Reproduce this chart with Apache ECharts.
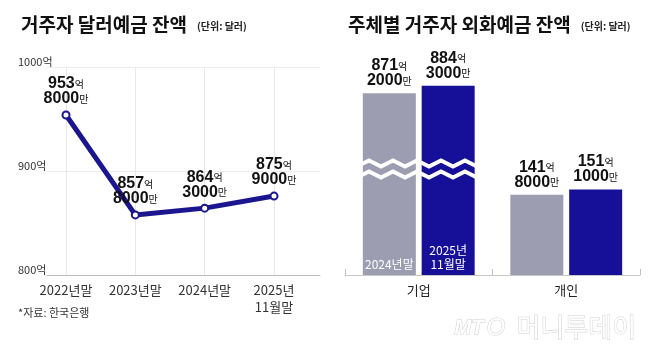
<!DOCTYPE html>
<html>
<head>
<meta charset="utf-8">
<script src="https://cdn.jsdelivr.net/npm/echarts@6/dist/echarts.min.js"></script>
<style>
html, body { margin: 0; padding: 0; background: #fff; }
#main { width: 658px; height: 352px; }
</style>
</head>
<body>
<div id="main"></div>
<script>
// 거주자 달러예금 잔액 (억 달러)
var periods = ['2022년말', '2023년말', '2024년말', '2025년\n11월말'];
var dollarDeposit = [953.8, 857.8, 864.3, 875.9];
var dollarTicks = [800, 900, 1000];

// 주체별 거주자 외화예금 잔액 (억 달러)
var holders = ['기업', '개인'];
var fx2024 = [871.2, 141.8];
var fx2025 = [884.3, 151.1];
var barNames = ['2024년말', '2025년\n11월말'];

var KR = '"Noto Sans CJK KR", sans-serif';
var NUM = '"Liberation Sans Narrow", "Liberation Sans", sans-serif';

// 953.8 -> 953억 8000만
function eokMan(v) {
    var eok = Math.floor(v + 1e-6);
    var man = Math.round((v - eok) * 10000);
    return '{n|' + eok + '}{u|억}\n{n|' + man + '}{u|만}';
}

var valueRich = {
    n: { fontFamily: NUM, fontWeight: 'bold', fontSize: 16, color: '#111', lineHeight: 15 },
    u: { fontFamily: KR, fontSize: 10, color: '#111', lineHeight: 15 }
};

var titleRich = {
    t: { fontFamily: KR, fontSize: 19, fontWeight: 'bold', color: '#111' },
    s: { fontFamily: KR, fontSize: 10, color: '#222', padding: [4, 0, 0, 0] }
};

// 기업 막대에만 안쪽 아래 라벨(시점)
function withInsideLabel(values) {
    return values.map(function (v, i) {
        return i === 0 ? { value: v, label: { show: true } } : v;
    });
}

function barSeries(name, values, color) {
    return {
        name: name, type: 'bar', xAxisIndex: 2, yAxisIndex: 2,
        data: withInsideLabel(values), barWidth: 53, barGap: '11%',
        itemStyle: { color: color },
        label: {
            show: false, position: 'insideBottom', distance: 4,
            formatter: '{a}', color: '#fff', fontSize: 12, lineHeight: 14, fontFamily: KR
        },
        emphasis: { disabled: true }
    };
}

// 값 라벨은 물결(축 생략) 위에 오도록 별도 투명 막대로
function valueLabelSeries(values) {
    return {
        type: 'bar', xAxisIndex: 3, yAxisIndex: 2, z: 200,
        data: values, barWidth: 53, barGap: '11%',
        itemStyle: { color: 'rgba(0,0,0,0)' }, silent: true,
        label: {
            show: true, position: 'top', distance: 5,
            formatter: function (p) { return eokMan(p.value); },
            rich: valueRich
        }
    };
}

var myChart = echarts.init(document.getElementById('main'));

myChart.setOption({
    animation: false,
    title: [
        { left: 16, top: 10, text: '{t|거주자 달러예금 잔액}  {s|(단위: 달러)}', textStyle: { rich: titleRich } },
        { left: 343, top: 10, text: '{t|주체별 거주자 외화예금 잔액}  {s|(단위: 달러)}', textStyle: { rich: titleRich } }
    ],
    grid: [
        { left: 47, right: 338, top: 67, bottom: 77 },
        { left: 66, width: 208, top: 67, bottom: 77 },
        { left: 345, right: 18, top: 60, bottom: 77 }
    ],
    xAxis: [
        {
            gridIndex: 0, type: 'value', min: 0, max: 1,
            axisLine: { show: true, lineStyle: { color: '#bdbdbd' } },
            axisTick: { show: false }, axisLabel: { show: false }, splitLine: { show: false }
        },
        {
            gridIndex: 1, type: 'category', data: periods, boundaryGap: false,
            axisLine: { show: false }, axisTick: { show: false },
            axisLabel: { interval: 0, color: '#333', fontSize: 13, lineHeight: 17, margin: 7, fontFamily: KR },
            splitLine: { show: true, lineStyle: { color: '#e8e8e8' } }
        },
        {
            gridIndex: 2, type: 'category', data: holders,
            axisLine: { lineStyle: { color: '#c8c8c8' } },
            axisTick: { show: true, inside: true, length: 6, lineStyle: { color: '#c0c0c0' } },
            axisLabel: { color: '#222', fontSize: 13, margin: 9, fontFamily: KR }
        },
        { gridIndex: 2, type: 'category', data: holders, show: false }
    ],
    yAxis: [
        {
            gridIndex: 0, type: 'value', min: dollarTicks[0], max: dollarTicks[2], interval: 100,
            axisLine: { show: false }, axisTick: { show: false },
            axisLabel: {
                formatter: function (v) { return v + '억'; },
                align: 'left', verticalAlign: 'bottom', margin: 29,
                color: '#333', fontSize: 11, fontFamily: KR
            },
            splitLine: { lineStyle: { color: '#ececec' } }
        },
        { gridIndex: 1, type: 'value', min: dollarTicks[0], max: dollarTicks[2], show: false },
        {
            gridIndex: 2, type: 'value', min: 0, max: 930,
            axisLine: { show: false }, axisTick: { show: false },
            axisLabel: { show: false }, splitLine: { show: false },
            breaks: [{ start: 178, end: 747, gap: 19 }],
            breakArea: {
                show: true,
                itemStyle: { color: 'rgba(255,255,255,0)', borderColor: '#fff', borderWidth: 4, borderType: 'solid', opacity: 1 },
                zigzagAmplitude: 3,
                zigzagMinSpan: 12,
                zigzagMaxSpan: 12,
                zigzagZ: 100,
                expandOnClick: false
            }
        }
    ],
    series: [
        {
            type: 'line', xAxisIndex: 1, yAxisIndex: 1,
            data: dollarDeposit,
            lineStyle: { width: 5, color: '#1b168f' },
            symbol: 'emptyCircle', symbolSize: 7,
            itemStyle: { color: '#1b168f', borderWidth: 1.5 },
            label: {
                show: true, position: 'top', distance: 4,
                formatter: function (p) { return eokMan(p.value); },
                rich: valueRich
            },
            emphasis: { disabled: true }
        },
        barSeries(barNames[0], fx2024, '#9c9db1'),
        barSeries(barNames[1], fx2025, '#160f98'),
        valueLabelSeries(fx2024),
        valueLabelSeries(fx2025)
    ],
    graphic: [
        { type: 'text', left: 18, top: 307, style: { text: '*자료: 한국은행', fill: '#333', font: '11px ' + KR } },
        { type: 'text', left: 454, top: 318, style: { text: 'MT', fill: '#fff', stroke: '#cfcfcf', lineWidth: 1, font: 'italic bold 20px "Liberation Sans", sans-serif' } },
        { type: 'text', left: 486, top: 316, style: { text: 'O', fill: '#fff', stroke: '#cfcfcf', lineWidth: 1, font: 'italic 24px "Liberation Sans", sans-serif' } },
        { type: 'text', left: 516, top: 314, style: { text: '머니투데이', fill: '#fff', stroke: '#cfcfcf', lineWidth: 1, font: '26px ' + KR } }
    ]
});
</script>
</body>
</html>
